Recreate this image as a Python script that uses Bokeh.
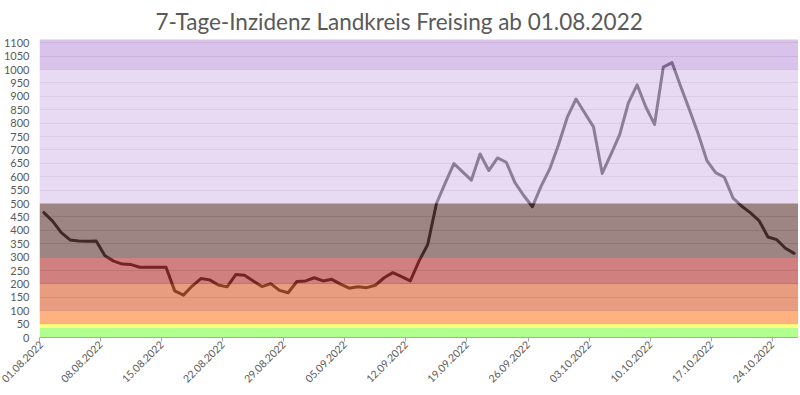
import math
from datetime import datetime, timedelta

from bokeh.plotting import figure
from bokeh.models import (Range1d, FixedTicker, DatetimeTickFormatter,
                          BoxAnnotation, ColumnDataSource)
from bokeh.embed import file_html
from bokeh.resources import INLINE

# ---- data -------------------------------------------------------------
title_text = "7-Tage-Inzidenz Landkreis Freising ab 01.08.2022"
first_day = "01.08.2022"
incidence = [
    466, 434, 391, 364, 360, 359, 360, 305, 285, 274,
    272, 262, 262, 262, 262, 174, 158, 192, 220, 215,
    196, 189, 235, 232, 211, 190, 201, 176, 167, 209,
    211, 223, 211, 217, 199, 184, 189, 186, 195, 223,
    242, 227, 211, 285, 347, 500, 576, 649, 618, 587,
    685, 623, 670, 654, 578, 530, 488, 565, 630, 720,
    822, 890, 838, 786, 612, 683, 757, 875, 943, 860,
    795, 1009, 1026, 937, 850, 760, 660, 615, 598, 520,
    490, 465, 435, 375, 365, 333, 314,
]
tick_labels = ["01.08.2022", "08.08.2022", "15.08.2022", "22.08.2022",
               "29.08.2022", "05.09.2022", "12.09.2022", "19.09.2022",
               "26.09.2022", "03.10.2022", "10.10.2022", "17.10.2022",
               "24.10.2022"]
y_ticks = [0, 50, 100, 150, 200, 250, 300, 350, 400, 450, 500, 550, 600,
           650, 700, 750, 800, 850, 900, 950, 1000, 1050, 1100]
y_max = 1112
band_bottom = [0, 35, 50, 100, 200, 300, 500, 1000]
band_top = [35, 50, 100, 200, 300, 500, 1000, 1200]
band_colors = ["#87FF52", "#FFFF39", "#FF8739", "#DB6639",
               "#B73939", "#66403D", "#DBC5EC", "#C4A1E0"]

# ---- helpers ----------------------------------------------------------
EPOCH = datetime(1970, 1, 1)


def parse(s):
    return datetime.strptime(s, "%d.%m.%Y")


def to_ms(dt):
    return (dt - EPOCH).total_seconds() * 1000.0


start = parse(first_day)
dates = [start + timedelta(days=i, hours=12) for i in range(len(incidence))]
x_end = start + timedelta(days=len(incidence))

src = ColumnDataSource(data=dict(date=dates, value=incidence))

grey = "#595959"

p = figure(frame_width=759, frame_height=298, x_axis_type="datetime",
           x_range=Range1d(start, x_end), y_range=Range1d(0, y_max),
           output_backend="svg", toolbar_location=None, title=title_text,
           min_border_left=30, min_border_right=0, min_border_top=32,
           min_border_bottom=0)

p.title.text_font = "Lato"
p.title.text_font_size = "22.5px"
p.title.text_font_style = "normal"
p.title.text_color = grey
p.title.align = "left"
p.title.offset = 116
p.title.standoff = 10

p.line(x="date", y="value", source=src, line_color="black", line_width=3,
       line_join="round", line_cap="round")

for b, t, c in zip(band_bottom, band_top, band_colors):
    p.add_layout(BoxAnnotation(bottom=b, top=t, fill_color=c, fill_alpha=0.64,
                               line_color=None))

# x axis
p.xaxis.ticker = FixedTicker(ticks=[to_ms(parse(s)) for s in tick_labels])
fmt = "%d.%m.%Y"
p.xaxis.formatter = DatetimeTickFormatter(days=fmt, months=fmt, years=fmt,
                                          hours=fmt, minutes=fmt)
p.xaxis.major_label_orientation = math.pi / 4
p.xaxis.major_label_text_font = "Lato"
p.xaxis.major_label_text_font_size = "10.5px"
p.xaxis.major_label_text_color = grey
p.xaxis.axis_line_color = "#A6A6A6"
p.xaxis.major_tick_line_color = "#A6A6A6"
p.xaxis.major_tick_out = 4
p.xaxis.major_tick_in = 0
p.xaxis.minor_tick_line_color = None
p.xaxis.major_label_standoff = 1

# y axis
p.yaxis.ticker = FixedTicker(ticks=y_ticks)
p.yaxis.axis_line_color = None
p.yaxis.major_tick_line_color = None
p.yaxis.minor_tick_line_color = None
p.yaxis.major_label_text_font = "Lato"
p.yaxis.major_label_text_font_size = "11px"
p.yaxis.major_label_text_color = grey
p.yaxis.major_label_standoff = 4

p.ygrid.ticker = FixedTicker(ticks=y_ticks)
p.ygrid.grid_line_color = "#D9D9D9"
p.xgrid.grid_line_color = None
p.outline_line_color = None
p.background_fill_color = "white"

open("out.html", "w").write(file_html(p, INLINE))
